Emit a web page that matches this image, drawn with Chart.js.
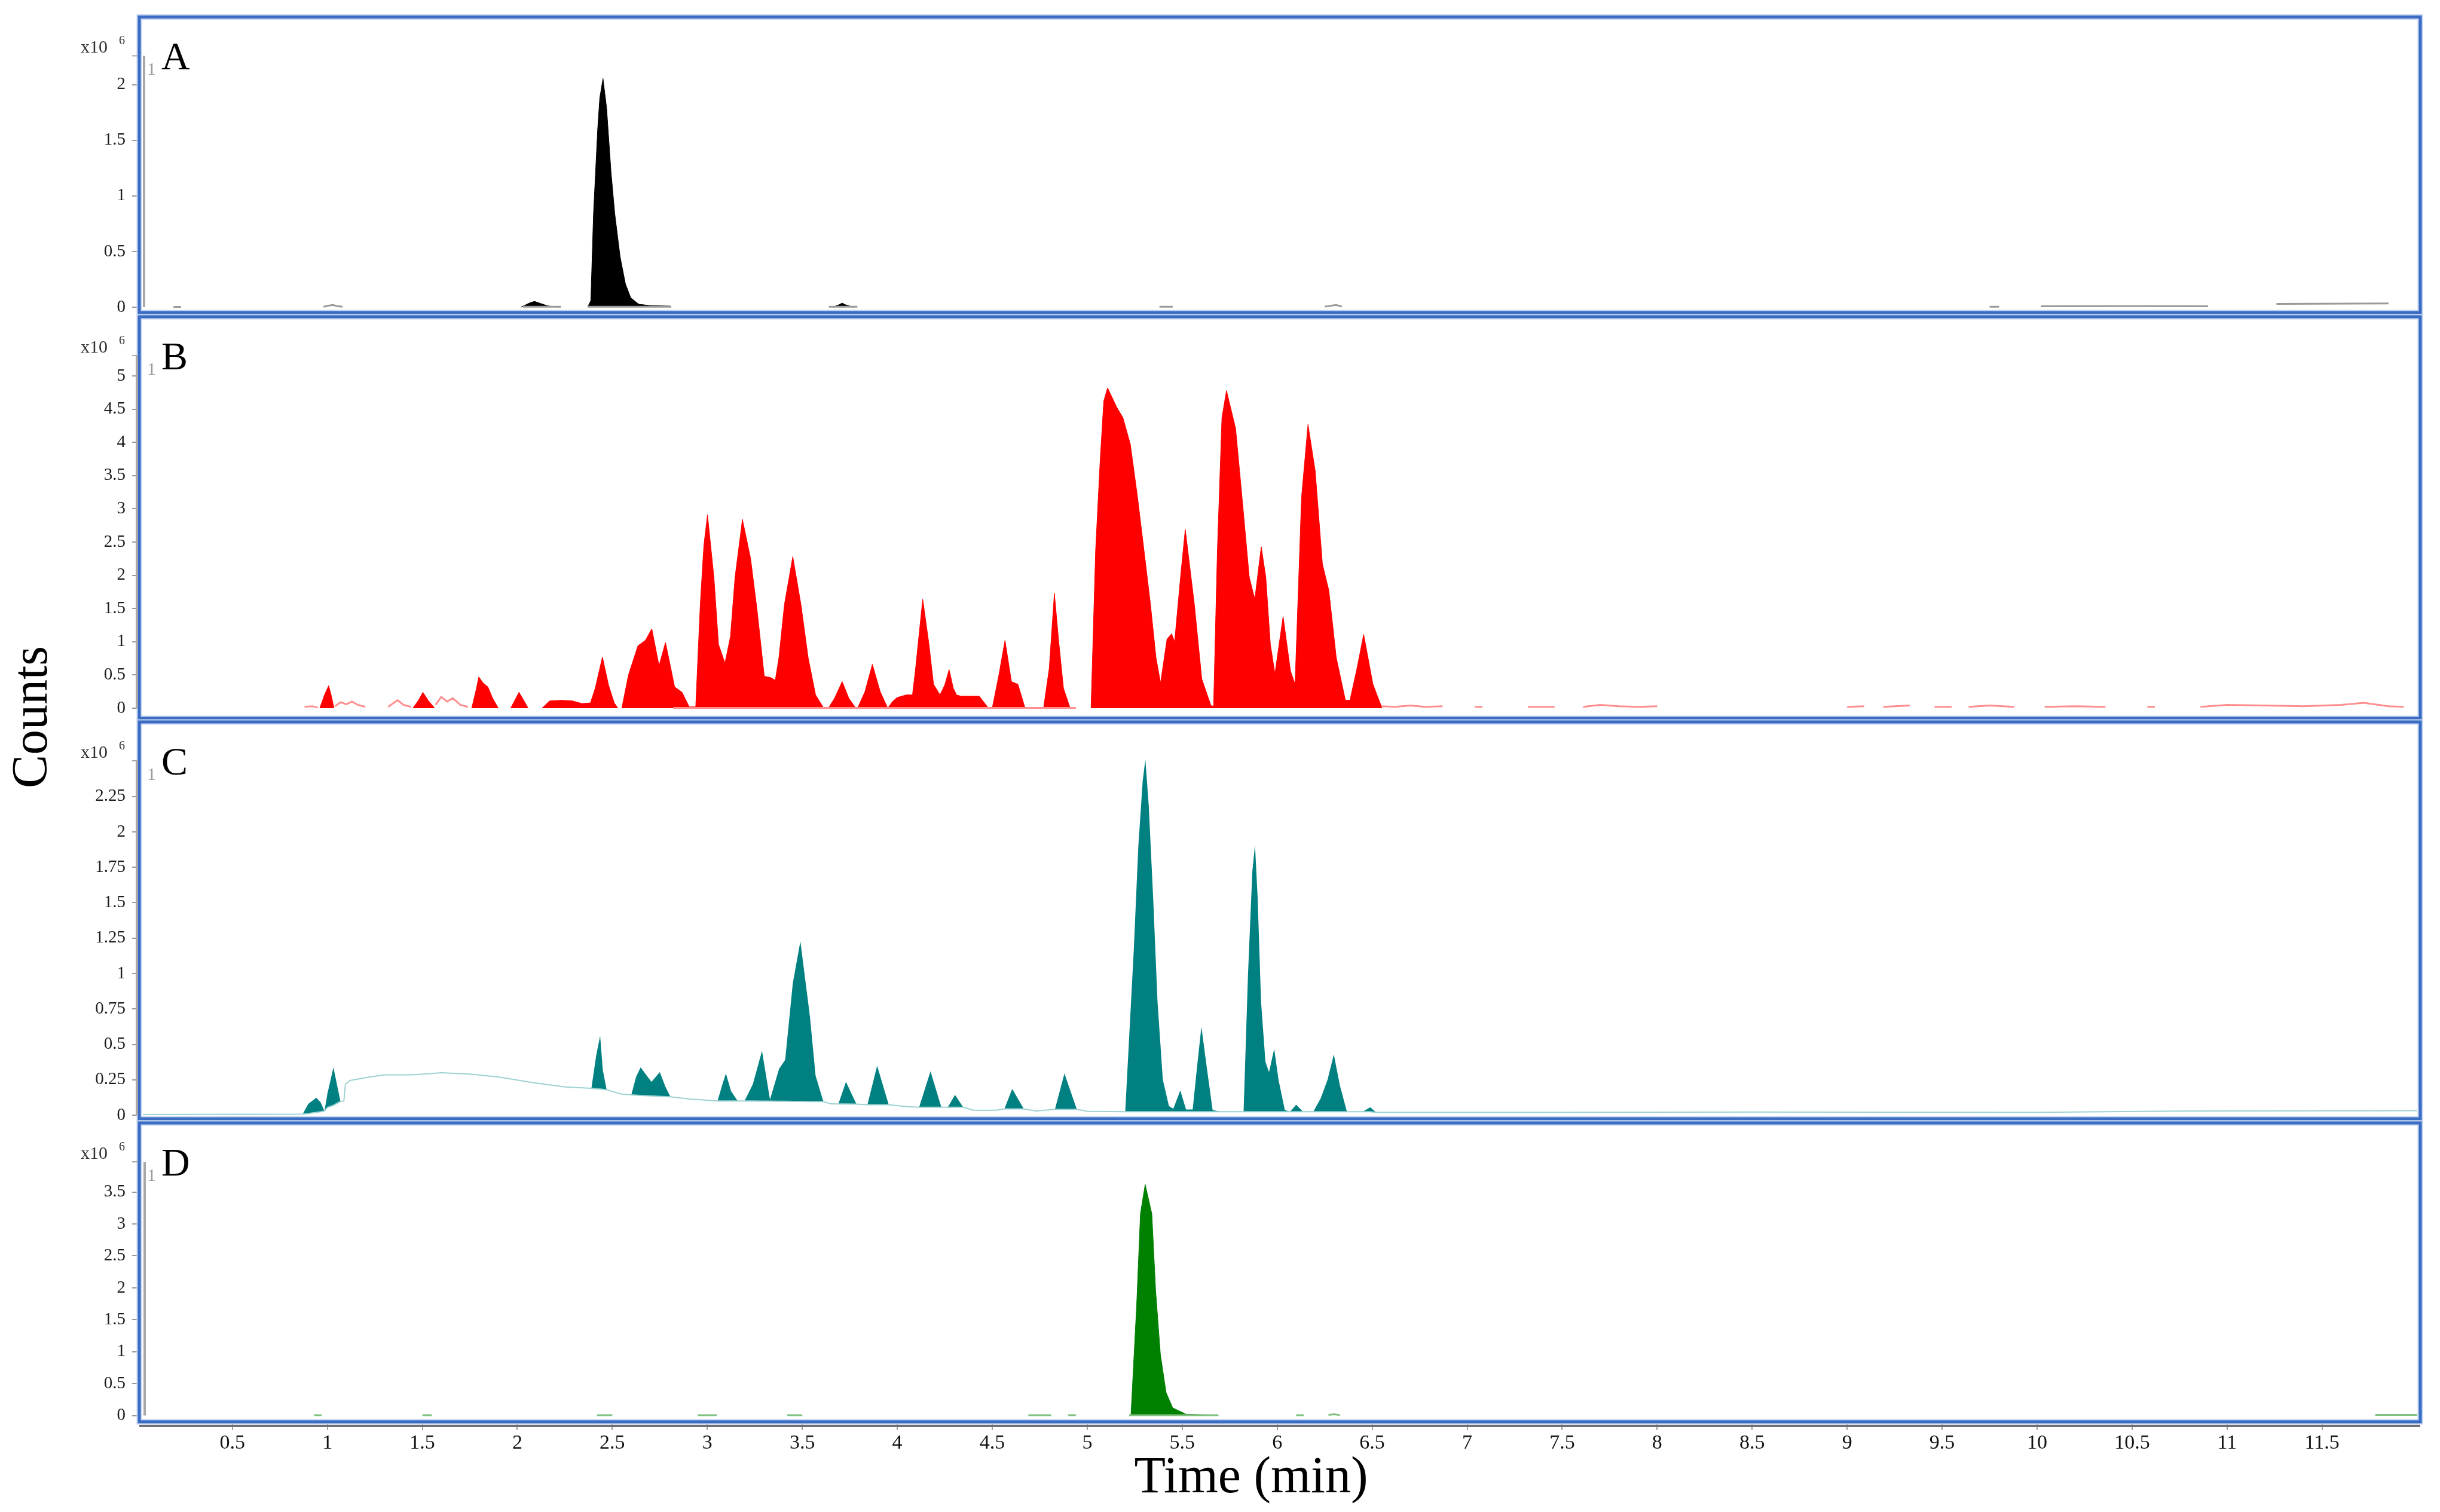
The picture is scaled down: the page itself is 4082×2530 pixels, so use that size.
<!DOCTYPE html>
<html>
<head>
<meta charset="utf-8">
<script src="https://cdn.jsdelivr.net/npm/chart.js@4.4.1/dist/chart.umd.min.js"></script>
<style>
  html, body { margin: 0; padding: 0; background: #fff; overflow: hidden; }
  #wrap { position: relative; width: 4082px; height: 2530px; }
  #wrap canvas { position: absolute; left: 0; top: 0; }
</style>
</head>
<body>
<div id="wrap">
  <canvas id="panelA" width="4082" height="2530"></canvas>
  <canvas id="panelB" width="4082" height="2530"></canvas>
  <canvas id="panelC" width="4082" height="2530"></canvas>
  <canvas id="panelD" width="4082" height="2530"></canvas>
</div>
<script>
// Zeitachse (min)
const xTicks = [0.5, 1, 1.5, 2, 2.5, 3, 3.5, 4, 4.5, 5, 5.5, 6, 6.5, 7, 7.5, 8, 8.5, 9, 9.5, 10, 10.5, 11, 11.5];

// Y-Ticks je Panel (x10^6 Counts)
const ticksA = [0, 0.5, 1, 1.5, 2];
const ticksB = [0, 0.5, 1, 1.5, 2, 2.5, 3, 3.5, 4, 4.5, 5];
const ticksC = [0, 0.25, 0.5, 0.75, 1, 1.25, 1.5, 1.75, 2, 2.25];
const ticksD = [0, 0.5, 1, 1.5, 2, 2.5, 3, 3.5];

// Panel A – Peaks (gefüllt) und Grundrauschen
const timeA   = [2.02, 2.06, 2.09, 2.12, 2.16, 2.22, 2.3,
                 2.37, 2.387, 2.401, 2.423, 2.434, 2.451, 2.47, 2.493, 2.513, 2.541, 2.569, 2.597, 2.639, 2.70, 2.806, 2.81, 3.2,
                 3.66, 3.69, 3.71, 3.73, 3.77];
const countsA = [0, 0.035, 0.053, 0.035, 0.012, 0, null,
                 0, 0.06, 0.84, 1.60, 1.88, 2.055, 1.79, 1.22, 0.84, 0.455, 0.21, 0.085, 0.027, 0.015, 0.01, 0, null,
                 0, 0.02, 0.037, 0.02, 0];
const noiseTimeA = [0.19, 0.23, 0.6, 0.98, 1.01, 1.03, 1.05, 1.08, 1.5, 2.03, 2.23, 2.3, 2.37, 2.81, 3.2, 3.64, 3.79, 4.5,
                    5.38, 5.45, 5.8, 6.25, 6.29, 6.31, 6.34, 8.0, 9.75, 9.8, 9.9, 10.02, 10.5, 10.9, 11.1, 11.26, 11.85];
const noiseA     = [0.003, 0.003, null, 0.004, 0.015, 0.02, 0.01, 0.004, null, 0.004, 0.004, null, 0.004, 0.004, null, 0.004, 0.004, null,
                    0.004, 0.004, null, 0.005, 0.015, 0.02, 0.005, null, 0.004, 0.004, null, 0.008, 0.01, 0.009, null, 0.03, 0.034];

// Panel B
const timeB = [
  0.96, 0.985, 1.007, 1.02, 1.035, 1.2,
  1.45, 1.48, 1.503, 1.53, 1.565, 1.65,
  1.76, 1.785, 1.797, 1.82, 1.845, 1.87, 1.90, 1.93,
  1.965, 2.009, 2.057, 2.09,
  2.13, 2.17, 2.23, 2.29, 2.34, 2.385, 2.41, 2.448, 2.48, 2.51, 2.53, 2.54,
  2.55, 2.585, 2.635, 2.674, 2.708, 2.746, 2.78, 2.828, 2.867, 2.905,
  2.939, 2.963, 2.982, 3.001, 3.035, 3.059, 3.093, 3.122, 3.146, 3.185,
  3.228, 3.262, 3.30, 3.334, 3.358, 3.377, 3.406, 3.45, 3.493, 3.531,
  3.57, 3.613, 3.625,
  3.637, 3.67, 3.71, 3.745, 3.782, 3.786,
  3.791, 3.83, 3.869, 3.91, 3.95, 3.975, 3.999, 4.047, 4.08, 4.095,
  4.134, 4.167, 4.191, 4.225, 4.25, 4.273, 4.295, 4.312, 4.336, 4.432,
  4.48, 4.49,
  4.50, 4.535, 4.567, 4.601, 4.635, 4.673, 4.72,
  4.77, 4.80, 4.827, 4.85, 4.875, 4.91, 4.96,
  5.02, 5.044, 5.068, 5.087, 5.107, 5.155, 5.188, 5.227, 5.265, 5.299,
  5.333, 5.362, 5.386, 5.42, 5.444, 5.46, 5.492, 5.516, 5.564, 5.603,
  5.651, 5.665, 5.685, 5.709, 5.733, 5.781, 5.815, 5.853, 5.882, 5.916,
  5.94, 5.964, 5.988, 6.031, 6.07, 6.094, 6.128, 6.162, 6.2, 6.238,
  6.272, 6.311, 6.359, 6.383, 6.42, 6.455, 6.504, 6.552
];
const countsB = [
  0, 0.2, 0.34, 0.2, 0, null,
  0, 0.12, 0.24, 0.12, 0, null,
  0, 0.3, 0.47, 0.38, 0.32, 0.15, 0, null,
  0, 0.24, 0, null,
  0, 0.11, 0.12, 0.11, 0.07, 0.08, 0.3, 0.77, 0.35, 0.08, 0, null,
  0, 0.5, 0.94, 1.02, 1.195, 0.64, 0.99, 0.32, 0.24, 0.02,
  0.02, 1.56, 2.45, 2.91, 1.97, 0.96, 0.68, 1.08, 1.97, 2.84,
  2.25, 1.48, 0.48, 0.46, 0.42, 0.76, 1.56, 2.28, 1.56, 0.76,
  0.2, 0, null,
  0, 0.15, 0.40, 0.15, 0, null,
  0, 0.25, 0.66, 0.25, 0, 0.1, 0.16, 0.2, 0.2, 0.56,
  1.64, 0.96, 0.36, 0.2, 0.35, 0.58, 0.3, 0.2, 0.18, 0.18,
  0, null,
  0, 0.5, 1.02, 0.40, 0.36, 0, null,
  0, 0.6, 1.73, 1.0, 0.3, 0, null,
  0, 2.37, 3.73, 4.62, 4.82, 4.53, 4.37, 3.97, 3.17, 2.37,
  1.56, 0.76, 0.38, 1.04, 1.12, 1.0, 2.0, 2.69, 1.56, 0.44,
  0.04, 0.03, 2.37, 4.37, 4.78, 4.21, 3.17, 1.97, 1.64, 2.43,
  1.97, 0.96, 0.52, 1.38, 0.56, 0.36, 3.17, 4.27, 3.57, 2.17,
  1.77, 0.76, 0.12, 0.12, 0.6, 1.11, 0.36, 0
];
const noiseTimeB = [0.88, 0.92, 0.95, 1.0, 1.04, 1.07, 1.10, 1.13, 1.16, 1.2, 1.26, 1.32, 1.37, 1.40, 1.44, 1.5,
                    1.57, 1.60, 1.63, 1.66, 1.70, 1.74, 2.3, 2.82, 4.94, 6.0, 6.55, 6.62, 6.7, 6.78, 6.87, 6.95,
                    7.04, 7.08, 7.2, 7.32, 7.46, 7.55, 7.61, 7.7, 7.8, 7.9, 8.0, 8.5, 9.0, 9.09, 9.14, 9.19, 9.33, 9.4,
                    9.46, 9.55, 9.6, 9.64, 9.75, 9.88, 9.95, 10.04, 10.2, 10.36, 10.5, 10.58, 10.62, 10.7,
                    10.86, 11.0, 11.2, 11.4, 11.6, 11.72, 11.85, 11.93];
const noiseB     = [0.02, 0.03, 0.01, null, 0.03, 0.09, 0.06, 0.1, 0.05, 0.02, null, 0.02, 0.12, 0.05, 0.02, null,
                    0.05, 0.17, 0.1, 0.15, 0.05, 0.02, null, 0.005, 0.005, null, 0.03, 0.02, 0.04, 0.02, 0.03, null,
                    0.02, 0.02, null, 0.02, 0.02, null, 0.02, 0.05, 0.03, 0.02, 0.03, null, 0.02, 0.03, null, 0.02, 0.04, null,
                    0.02, 0.02, null, 0.02, 0.04, 0.02, null, 0.02, 0.03, 0.02, null, 0.02, 0.02, null,
                    0.02, 0.05, 0.04, 0.03, 0.05, 0.08, 0.03, 0.02];

// Panel C – Signal über driftender Basislinie
const timeC = [
  0.03, 0.87, 0.90, 0.942, 0.965, 0.985, 1.0, 1.032, 1.069, 1.087,
  1.095, 1.12, 1.2, 1.3, 1.45, 1.6, 1.75, 1.9, 2.08, 2.25,
  2.39, 2.415, 2.436, 2.45, 2.47, 2.545, 2.60, 2.625, 2.649, 2.706,
  2.75, 2.78, 2.806, 2.9, 3.054, 3.08, 3.098, 3.125, 3.16, 3.196,
  3.24, 3.288, 3.33, 3.378, 3.41, 3.45, 3.49, 3.54, 3.57, 3.611,
  3.65, 3.69, 3.73, 3.785, 3.843, 3.894, 3.955, 4.05, 4.115, 4.175,
  4.232, 4.266, 4.304, 4.347, 4.40, 4.52, 4.564, 4.605, 4.666, 4.73,
  4.83, 4.88, 4.945, 5.0, 5.20, 5.245, 5.269, 5.292, 5.306, 5.324,
  5.347, 5.37, 5.398, 5.43, 5.453, 5.49, 5.52, 5.555, 5.578, 5.601,
  5.629, 5.66, 5.70, 5.823, 5.846, 5.869, 5.883, 5.897, 5.915, 5.938,
  5.957, 5.984, 6.007, 6.04, 6.067, 6.10, 6.136, 6.19, 6.229, 6.265,
  6.298, 6.33, 6.367, 6.45, 6.49, 6.52, 7.4, 8.5, 10.0, 10.8,
  12.0
];
const baseC = [
  0.005, 0.008, 0.012, 0.02, 0.025, 0.03, 0.055, 0.07, 0.097, 0.10,
  0.22, 0.245, 0.265, 0.285, 0.285, 0.30, 0.29, 0.27, 0.23, 0.20,
  0.19, 0.187, 0.185, 0.183, 0.18, 0.15, 0.144, 0.142, 0.14, 0.136,
  0.133, 0.131, 0.13, 0.115, 0.10, 0.10, 0.10, 0.10, 0.10, 0.10,
  0.10, 0.099, 0.099, 0.098, 0.098, 0.097, 0.097, 0.096, 0.096, 0.096,
  0.08, 0.079, 0.079, 0.078, 0.074, 0.074, 0.074, 0.06, 0.056, 0.056,
  0.056, 0.056, 0.056, 0.056, 0.035, 0.035, 0.045, 0.045, 0.045, 0.03,
  0.041, 0.041, 0.041, 0.028, 0.025, 0.025, 0.025, 0.025, 0.025, 0.025,
  0.025, 0.025, 0.025, 0.025, 0.025, 0.025, 0.025, 0.025, 0.025, 0.025,
  0.025, 0.025, 0.025, 0.025, 0.025, 0.025, 0.025, 0.025, 0.025, 0.025,
  0.025, 0.025, 0.025, 0.025, 0.025, 0.025, 0.025, 0.025, 0.025, 0.025,
  0.025, 0.025, 0.025, 0.025, 0.025, 0.02, 0.02, 0.022, 0.02, 0.03,
  0.032
];
const countsC = [
  0.005, 0.008, 0.08, 0.124, 0.09, 0.03, 0.15, 0.338, 0.097, 0.10,
  0.22, 0.245, 0.265, 0.285, 0.285, 0.30, 0.29, 0.27, 0.23, 0.20,
  0.19, 0.42, 0.56, 0.32, 0.18, 0.15, 0.144, 0.27, 0.338, 0.236,
  0.304, 0.20, 0.13, 0.115, 0.10, 0.22, 0.295, 0.17, 0.10, 0.10,
  0.22, 0.455, 0.11, 0.328, 0.39, 0.93, 1.228, 0.70, 0.28, 0.096,
  0.08, 0.079, 0.236, 0.078, 0.074, 0.349, 0.074, 0.06, 0.056, 0.31,
  0.056, 0.056, 0.144, 0.056, 0.035, 0.035, 0.045, 0.186, 0.045, 0.03,
  0.041, 0.295, 0.041, 0.028, 0.025, 1.167, 1.90, 2.36, 2.51, 2.18,
  1.535, 0.80, 0.25, 0.065, 0.046, 0.175, 0.04, 0.04, 0.34, 0.625,
  0.34, 0.037, 0.025, 0.025, 0.983, 1.72, 1.908, 1.535, 0.80, 0.377,
  0.304, 0.469, 0.249, 0.037, 0.025, 0.074, 0.025, 0.025, 0.12, 0.25,
  0.43, 0.21, 0.025, 0.025, 0.056, 0.02, 0.02, 0.022, 0.02, 0.03,
  0.032
];

// Panel D
const timeD   = [5.23, 5.26, 5.28, 5.305, 5.34, 5.36, 5.385, 5.415, 5.45, 5.52, 5.68, 5.69];
const countsD = [0, 1.72, 3.16, 3.62, 3.16, 1.96, 0.96, 0.36, 0.12, 0.02, 0.005, 0];
const noiseTimeD = [0.93, 0.97, 1.2, 1.5, 1.55, 2.0, 2.42, 2.5, 2.7, 2.95, 3.05, 3.2, 3.42, 3.5, 4.0, 4.69, 4.81,
                    4.85, 4.9, 4.94, 5.0, 5.22, 5.69, 5.9, 6.1, 6.14, 6.2, 6.27, 6.3, 6.33, 9.0, 11.78, 12.0];
const noiseD     = [0.005, 0.005, null, 0.005, 0.005, null, 0.005, 0.005, null, 0.005, 0.005, null, 0.005, 0.005, null, 0.006, 0.006,
                    null, 0.006, 0.006, null, 0.006, 0.006, null, 0.006, 0.006, null, 0.01, 0.02, 0.006, null, 0.01, 0.01];

const W = 4082, H = 2530;
const FONT = "'Liberation Serif', 'DejaVu Serif', serif";
Chart.defaults.font.family = FONT;

function pts(t, v) { return t.map((x, i) => ({ x: x, y: v[i] })); }
const plain = v => String(v);   // 0.5, 2, 2.25 – ohne erzwungene Nachkommastellen

// Rahmen, Achsenlinie und Beschriftungen je Panel
const framePlugin = {
  id: 'frame',
  afterDraw(chart, args, o) {
    const { ctx, chartArea: a } = chart;
    const zeroY = chart.scales.y.getPixelForValue(0);
    ctx.save();
    // blauer Doppelrahmen
    ctx.strokeStyle = '#c2d3ef';
    ctx.lineWidth = 9;
    ctx.strokeRect(a.left, a.top, a.right - a.left, a.bottom - a.top);
    ctx.strokeStyle = '#3a6cc4';
    ctx.lineWidth = 5;
    ctx.strokeRect(a.left, a.top, a.right - a.left, a.bottom - a.top);
    // graue Y-Achsenlinie
    const ax = a.left + o.axisDx;
    ctx.strokeStyle = '#a8a8a8';
    ctx.lineWidth = 4;
    ctx.beginPath(); ctx.moveTo(ax, a.top + 65); ctx.lineTo(ax, zeroY); ctx.stroke();
    ctx.lineWidth = 2;
    ctx.beginPath(); ctx.moveTo(a.left - 12, a.top + 65); ctx.lineTo(a.left - 2, a.top + 65); ctx.stroke();
    // x10^6, "1", Panelbuchstabe
    ctx.textAlign = 'left';
    ctx.textBaseline = 'alphabetic';
    ctx.fillStyle = '#333';
    ctx.font = '30px ' + FONT;
    ctx.fillText('x10', 135, a.top + 60);
    ctx.font = '20px ' + FONT;
    ctx.fillText('6', 199, a.top + 46);
    ctx.fillStyle = '#9a9a9a';
    ctx.font = '30px ' + FONT;
    ctx.fillText('1', 246, a.top + 97);
    ctx.fillStyle = '#000';
    ctx.font = '66px ' + FONT;
    ctx.fillText(o.letter, 270, a.top + 88);
    if (o.bottom) {
      // X-Achsenlinie unter Panel D
      ctx.strokeStyle = '#707070';
      ctx.lineWidth = 4;
      ctx.beginPath(); ctx.moveTo(a.left, a.bottom + 7); ctx.lineTo(a.right, a.bottom + 7); ctx.stroke();
      // Achsentitel (leicht links der Mitte wie im Original)
      ctx.fillStyle = '#000';
      ctx.textAlign = 'center';
      ctx.textBaseline = 'middle';
      ctx.font = '86px ' + FONT;
      ctx.fillText('Time (min)', 2093, 2474);
      ctx.save();
      ctx.translate(56, 1200);
      ctx.rotate(-Math.PI / 2);
      ctx.font = '84px ' + FONT;
      ctx.fillText('Counts', 0, 0);
      ctx.restore();
    }
    ctx.restore();
  }
};

function makePanel(id, p) {
  const bottom = !!p.bottomAxis;
  const xScale = {
    type: 'linear', min: 0.01, max: 12.017,
    display: bottom,
    afterBuildTicks: s => { s.ticks = xTicks.map(v => ({ value: v })); },
    grid: { drawOnChartArea: false, drawTicks: true, tickLength: 14, color: '#a0a0a0', lineWidth: 2 },
    border: { display: false },
    ticks: { padding: 2, color: '#111', font: { size: 34 }, maxRotation: 0, autoSkip: false, callback: plain }
  };
  if (bottom) xScale.afterFit = s => { s.height = H - p.bottom; };

  return new Chart(document.getElementById(id), {
    type: 'line',
    data: { datasets: p.datasets },
    options: {
      responsive: false,
      animation: false,
      devicePixelRatio: 1,
      events: [],
      layout: { padding: { left: 0, right: W - 4049, top: p.top, bottom: bottom ? 0 : H - p.bottom } },
      elements: { point: { radius: 0 }, line: { tension: 0 } },
      plugins: {
        legend: { display: false },
        tooltip: { enabled: false },
        frame: { letter: p.letter, axisDx: p.axisDx, bottom: bottom }
      },
      scales: {
        x: xScale,
        y: {
          type: 'linear', min: p.yMin, max: p.yMax,
          afterFit: s => { s.width = 233; },
          afterBuildTicks: s => { s.ticks = p.ticks.map(v => ({ value: v })); },
          grid: { drawOnChartArea: false, drawTicks: true, tickLength: 12, color: '#9a9a9a', lineWidth: 2 },
          border: { display: false },
          ticks: { padding: 11, color: '#1e1e1e', font: { size: 29 }, callback: plain }
        }
      }
    },
    plugins: [framePlugin]
  });
}

function peakSet(t, v, color) {
  return { data: pts(t, v), borderColor: color, backgroundColor: color, borderWidth: 1, fill: 'origin' };
}
function noiseSet(t, v, color) {
  return { data: pts(t, v), borderColor: color, borderWidth: 3, fill: false };
}

makePanel('panelA', {
  letter: 'A', top: 25, bottom: 523, yMin: -0.048, yMax: 2.608, ticks: ticksA, axisDx: 8,
  datasets: [noiseSet(noiseTimeA, noiseA, '#9a9a9a'), peakSet(timeA, countsA, '#000000')]
});
makePanel('panelB', {
  letter: 'B', top: 530, bottom: 1202, yMin: -0.153, yMax: 5.89, ticks: ticksB, axisDx: -4,
  datasets: [noiseSet(noiseTimeB, noiseB, '#ff8f8f'), peakSet(timeB, countsB, '#ff0000')]
});
makePanel('panelC', {
  letter: 'C', top: 1208, bottom: 1872, yMin: -0.025, yMax: 2.776, ticks: ticksC, axisDx: -4,
  datasets: [
    { data: pts(timeC, baseC), borderColor: '#9dd1d1', borderWidth: 2, fill: false },
    { data: pts(timeC, countsC), borderColor: 'rgba(0,0,0,0)', backgroundColor: '#008080', fill: '-1' }
  ]
});
makePanel('panelD', {
  letter: 'D', top: 1879, bottom: 2379, yMin: -0.098, yMax: 4.583, ticks: ticksD, axisDx: 9, bottomAxis: true,
  datasets: [noiseSet(noiseTimeD, noiseD, '#80c080'), peakSet(timeD, countsD, '#008000')]
});
</script>
</body>
</html>
